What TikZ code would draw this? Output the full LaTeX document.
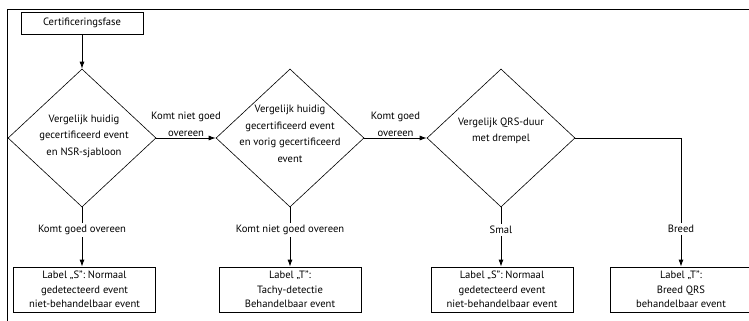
\documentclass[tikz,border=0pt]{standalone}
\usepackage{fontspec}
\setmainfont{PT Sans}
\usetikzlibrary{shapes}
\usetikzlibrary{arrows.meta}

\begin{document}
\begin{tikzpicture}[x=1pt,y=-1pt,
  font=\fontsize{10.6}{16.5}\selectfont,
  keuze/.style={diamond,draw,line width=0.6pt,minimum width=148pt,minimum height=138pt,inner sep=0pt},
  uitkomst/.style={rectangle,draw,line width=0.8pt,minimum width=142pt,minimum height=45pt,align=center,inner sep=0pt,font=\fontsize{10.6}{14.5}\selectfont},
  pijl/.style={draw,line width=0.8pt,-{Latex[length=7pt,width=5pt]}},
  tekst/.style={align=center,inner sep=1pt}]
  \useasboundingbox (0,0) rectangle (749,321);

% kader
  \draw[line width=0.8pt] (749,9) -- (7,9) -- (7,321);
  \node[draw,line width=0.8pt,minimum width=122pt,minimum height=22pt,inner sep=0pt] (fase) at (82,23) {Certificeringsfase};

% beslissingen
  \node[keuze] (d1) at (82,138) {};
  \node[tekst] (d1tekst) at (84,136) {Vergelijk huidig\\gecertificeerd event\\en NSR-sjabloon};
  \node[keuze] (d2) at (290,138) {};
  \node[tekst] (d2tekst) at (290,134) {Vergelijk huidig\\gecertificeerd event\\en vorig gecertificeerd\\event};
  \node[keuze] (d3) at (501,138) {};
  \node[tekst] (d3tekst) at (501,131) {Vergelijk QRS-duur\\met drempel};

% labels
  \node[uitkomst] (s1) at (84.5,289.5) {Label „S”: Normaal\\gedetecteerd event\\niet-behandelbaar event};
  \node[uitkomst] (t1) at (290,289.5) {Label „T”:\\Tachy-detectie\\Behandelbaar event};
  \node[uitkomst] (s2) at (502,289.5) {Label „S”: Normaal\\gedetecteerd event\\niet-behandelbaar event};
  \node[uitkomst] (t2) at (681,289.5) {Label „T”:\\Breed QRS\\behandelbaar event};

% pijlen
  \draw[pijl] (fase) -- (d1.north);
  \draw[pijl] (d1.east) -- node[tekst,above] {Komt niet goed\\overeen} (d2.west);
  \draw[pijl] (d2.east) -- node[tekst,above] {Komt goed\\overeen} (d3.west);
  \draw[pijl] (d1.south) -- node[pos=0.38,fill=white,inner sep=2pt] {Komt goed overeen} (s1.north -| d1.south);
  \draw[pijl] (d2.south) -- node[pos=0.38,fill=white,inner sep=2pt] {Komt niet goed overeen} (t1.north);
  \draw[pijl] (d3.south) -- node[pos=0.38,fill=white,inner sep=2pt] {Smal} (s2.north -| d3.south);
  \draw[pijl] (d3.east) -| node[pos=0.855,fill=white,inner sep=2pt] {Breed} (t2.north);

\end{tikzpicture}
\end{document}
